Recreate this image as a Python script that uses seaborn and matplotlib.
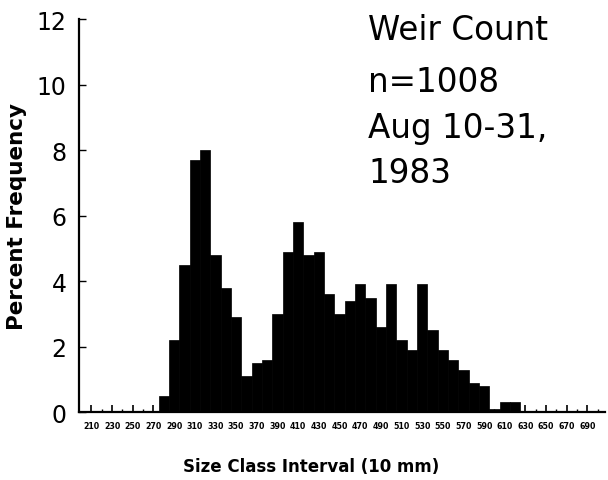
import matplotlib
matplotlib.use("Agg")
import matplotlib.pyplot as plt
import seaborn as sns
import numpy as np
import pandas as pd

# Data
size_class = [280, 290, 300, 310, 320, 330, 340, 350, 360, 370, 380, 390,
              400, 410, 420, 430, 440, 450, 460, 470, 480, 490, 500, 510,
              520, 530, 540, 550, 560, 570, 580, 590, 600, 610, 620]
percent_freq = [0.5, 2.2, 4.5, 7.7, 8.0, 4.8, 3.8, 2.9, 1.1, 1.5, 1.6, 3.0,
                4.9, 5.8, 4.8, 4.9, 3.6, 3.0, 3.4, 3.9, 3.5, 2.6, 3.9, 2.2,
                1.9, 3.9, 2.5, 1.9, 1.6, 1.3, 0.9, 0.8, 0.1, 0.3, 0.3]
tick_labels = [str(v) for v in range(210, 691, 20)]
y_ticks = [0, 2, 4, 6, 8, 10, 12]
annotation_lines = ["Weir Count", "n=1008", "Aug 10-31,", "1983"]

sns.set_style("ticks")
plt.rcParams["font.family"] = ["DejaVu Sans"]
for key in ["text.color", "axes.labelcolor", "xtick.color", "ytick.color",
            "axes.edgecolor"]:
    plt.rcParams[key] = "black"

df = pd.DataFrame({"size": size_class, "pct": percent_freq})

fig = plt.figure(figsize=(6.08, 4.81), dpi=100)
ax = fig.add_axes([0.130, 0.141, 0.865, 0.817])

sns.barplot(data=df, x="size", y="pct", native_scale=True, width=1.0,
            color="black", edgecolor="black", linewidth=0.5,
            errorbar=None, ax=ax, saturation=1)

ax.set_xlim(198, 707)
ax.set_ylim(0, 12)

major_x = [int(t) for t in tick_labels]
ax.set_xticks(major_x)
ax.set_xticklabels(tick_labels, fontsize=5.7, fontweight="bold")
ax.set_xticks([v + 10 for v in major_x], minor=True)
ax.tick_params(axis="x", which="major", direction="in", length=5, width=1.2,
               pad=6)
ax.tick_params(axis="x", which="minor", direction="in", length=2.5, width=1.0)

ax.set_yticks(y_ticks)
ax.set_yticklabels([str(v) for v in y_ticks], fontsize=17)
ax.tick_params(axis="y", direction="in", length=5, width=1.0, pad=9)

for side in ["top", "right"]:
    ax.spines[side].set_visible(False)
for side in ["left", "bottom"]:
    ax.spines[side].set_linewidth(1.6)

ax.set_xlabel("Size Class Interval (10 mm)", fontsize=12, fontweight="bold",
              va="center")
ax.xaxis.set_label_coords(0.441, -0.137)
ax.set_ylabel("Percent Frequency", fontsize=15.5, fontweight="bold",
              labelpad=7)

baselines = [40, 92, 138, 183]
for txt, yp in zip(annotation_lines, baselines):
    fig.text(368 / 608, 1 - yp / 481, txt, fontsize=23.5, ha="left",
             va="baseline")

fig.savefig("out.png", dpi=100)
